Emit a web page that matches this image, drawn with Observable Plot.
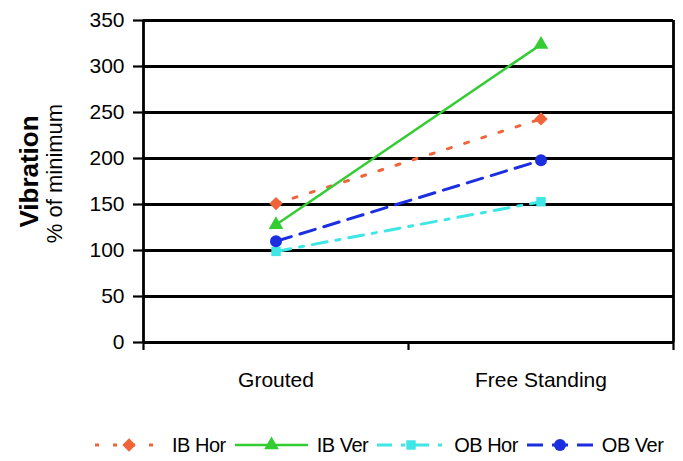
<!DOCTYPE html>
<html>
<head>
<meta charset="utf-8">
<script src="https://cdn.jsdelivr.net/npm/d3@7"></script>
<script src="https://cdn.jsdelivr.net/npm/@observablehq/plot@0.6"></script>
<style>
  html, body { margin: 0; padding: 0; background: #fff; }
  body { width: 683px; height: 461px; overflow: hidden; font-family: "Liberation Sans", Arial, sans-serif; }
  #legend { display: flex; align-items: center; height: 32px; padding-left: 95px; font-size: 20px; color: #000; letter-spacing: -0.5px; }
  #legend .item { display: flex; align-items: center; margin-right: 9px; }
  #legend svg { margin-right: 9px; }
</style>
</head>
<body>
<div id="chart"></div>
<div id="legend"></div>
<script>
// ---- data ----
const categories = ["Grouted", "Free Standing"];
const seriesNames = ["IB Hor", "IB Ver", "OB Hor", "OB Ver"];
const ibHor = [151, 243];
const ibVer = [128, 324];
const obHor = [99, 153];
const obVer = [110, 198];
const yTicks = [0, 50, 100, 150, 200, 250, 300, 350];

// ---- styles ----
const styles = {
  "IB Hor": {stroke: "#f0643a", dash: "4,14", width: 3, symbol: "diamond2", r: 6},
  "IB Ver": {stroke: "#33cc33", dash: null, width: 2.5, symbol: "triangle2", r: 7},
  "OB Hor": {stroke: "#3ee6e6", dash: "15,9,4,9", width: 3, symbol: "square2", r: 6},
  "OB Ver": {stroke: "#1c2fe0", dash: "16,9", width: 3, symbol: "circle", r: 6}
};
const values = {"IB Hor": ibHor, "IB Ver": ibVer, "OB Hor": obHor, "OB Ver": obVer};

const data = [];
seriesNames.forEach(s => categories.forEach((c, i) => data.push({series: s, cat: c, i: i + 0.5, v: values[s][i]})));

const font = "Liberation Sans, Arial, sans-serif";
const marks = [
  Plot.gridY(yTicks, {stroke: "#000", strokeOpacity: 1, strokeWidth: 2.8}),
  Plot.ruleX([0, categories.length], {stroke: "#000", strokeWidth: 2.8}),
  Plot.axisY({ticks: yTicks, tickSize: 10, tickPadding: 9, fontSize: 21, stroke: "#000", strokeWidth: 2.2, fill: "#000", label: null}),
  Plot.axisX({ticks: d3.range(0, categories.length + 1), tickSize: 8, tickFormat: () => "", stroke: "#000", strokeWidth: 2.2, label: null}),
  Plot.axisX({ticks: categories.map((c, i) => i + 0.5), tickSize: 0, tickPadding: 30, fontSize: 21, fill: "#000",
    tickFormat: d => categories[Math.floor(d)], label: null}),
  Plot.text(["Vibration"], {frameAnchor: "left", textAnchor: "middle", dx: -114, dy: -10, rotate: -90, fontSize: 26, fontWeight: "bold", fill: "#000"}),
  Plot.text(["% of minimum"], {frameAnchor: "left", textAnchor: "middle", dx: -89, dy: -8, rotate: -90, fontSize: 22, fill: "#000"})
];
seriesNames.forEach(s => {
  const st = styles[s];
  const d = data.filter(r => r.series === s);
  marks.push(Plot.line(d, {x: "i", y: "v", stroke: st.stroke, strokeWidth: st.width, strokeDasharray: st.dash}));
});
seriesNames.forEach(s => {
  const st = styles[s];
  const d = data.filter(r => r.series === s);
  marks.push(Plot.dot(d, {x: "i", y: "v", fill: st.stroke, stroke: "none", symbol: () => st.symbol, r: st.r}));
});

const chart = Plot.plot({
  width: 683,
  height: 429,
  marginTop: 20,
  marginBottom: 87,
  marginLeft: 143,
  marginRight: 10,
  style: {fontFamily: font, background: "#fff"},
  x: {type: "linear", domain: [0, categories.length], axis: null},
  y: {domain: [0, 350], axis: null},
  marks
});
document.getElementById("chart").appendChild(chart);

// ---- legend ----
const legend = document.getElementById("legend");
const sampleWidths = {"IB Hor": 68, "IB Ver": 73, "OB Hor": 68, "OB Ver": 66};
const symbolTypes = {diamond2: d3.symbolDiamond2, triangle2: d3.symbolTriangle2, square2: d3.symbolSquare2, circle: d3.symbolCircle};
seriesNames.forEach(s => {
  const st = styles[s];
  const w = sampleWidths[s];
  const item = document.createElement("div");
  item.className = "item";
  const ns = "http://www.w3.org/2000/svg";
  const svg = document.createElementNS(ns, "svg");
  svg.setAttribute("width", w);
  svg.setAttribute("height", 20);
  const line = document.createElementNS(ns, "line");
  line.setAttribute("x1", 0); line.setAttribute("x2", w);
  line.setAttribute("y1", 10); line.setAttribute("y2", 10);
  line.setAttribute("stroke", st.stroke);
  line.setAttribute("stroke-width", st.width);
  if (st.dash) line.setAttribute("stroke-dasharray", st.dash);
  svg.appendChild(line);
  const path = document.createElementNS(ns, "path");
  path.setAttribute("d", d3.symbol(symbolTypes[st.symbol], Math.PI * st.r * st.r)());
  path.setAttribute("transform", `translate(${w / 2},10)`);
  path.setAttribute("fill", st.stroke);
  svg.appendChild(path);
  const label = document.createElement("span");
  label.textContent = s;
  item.appendChild(svg);
  item.appendChild(label);
  legend.appendChild(item);
});
</script>
</body>
</html>
